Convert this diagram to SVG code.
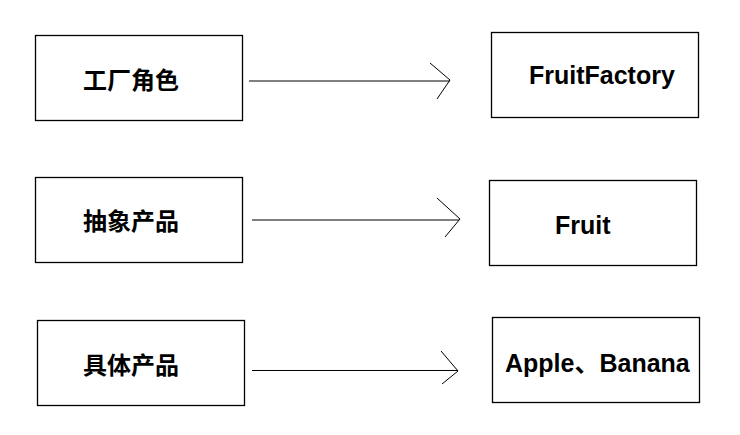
<svg xmlns="http://www.w3.org/2000/svg" width="740" height="435" viewBox="0 0 740 435">
<style>
.box{fill:#fff;stroke:#000;stroke-width:1.3}
.cn{font-family:"Noto Sans CJK SC","Noto Sans CJK JP",sans-serif;font-weight:bold;font-size:24px;fill:#000}
.en{font-family:"Liberation Sans","Noto Sans CJK SC",sans-serif;font-weight:bold;font-size:25px;fill:#000}
.ln{fill:none;stroke:#000;stroke-width:1}
</style>
<rect width="740" height="435" fill="#fff"/>
<g id="node-factory-role">
<rect class="box" x="35.5" y="35.5" width="207" height="85"/>
<text class="cn" x="83" y="89">工厂角色</text>
</g>
<g id="node-abstract-product">
<rect class="box" x="35.5" y="177.5" width="207" height="85"/>
<text class="cn" x="83" y="230">抽象产品</text>
</g>
<g id="node-concrete-product">
<rect class="box" x="37.5" y="320.5" width="207" height="85"/>
<text class="cn" x="83" y="374">具体产品</text>
</g>
<g id="node-fruitfactory">
<rect class="box" x="491.5" y="32.5" width="207" height="85"/>
<text class="en" x="529" y="84">FruitFactory</text>
</g>
<g id="node-fruit">
<rect class="box" x="489.5" y="180.5" width="207" height="85"/>
<text class="en" x="555" y="234">Fruit</text>
</g>
<g id="node-apple-banana">
<rect class="box" x="492.5" y="317.5" width="207" height="85"/>
<text class="en" x="505" y="372">Apple、Banana</text>
</g>
<g id="connectors">
<line class="ln" x1="249" y1="81" x2="450" y2="81"/>
<polyline class="ln" points="430,63 450,80 437,99"/>
<line class="ln" x1="252" y1="220" x2="459" y2="220"/>
<polyline class="ln" points="437,198 460,219 445,237"/>
<line class="ln" x1="252" y1="370.5" x2="458" y2="370.5"/>
<polyline class="ln" points="441,351 458,371 442,384"/>
</g>
</svg>
